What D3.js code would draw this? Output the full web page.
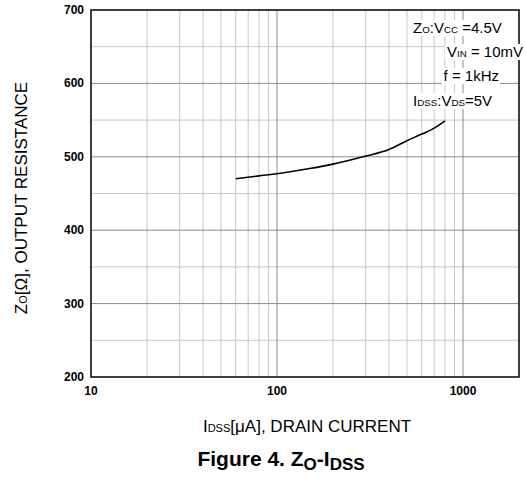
<!DOCTYPE html>
<html>
<head>
<meta charset="utf-8">
<script src="https://cdn.jsdelivr.net/npm/d3@7"></script>
<style>
body{margin:0;background:#fff;}
text{font-family:"Liberation Sans",Arial,sans-serif;}
</style>
</head>
<body>
<svg id="chart" width="526" height="481"></svg>
<script>
// curve
var idss = [60, 80, 100, 150, 200, 300, 400, 500, 600, 700, 800];
var zo   = [470, 474, 477, 484, 490, 501, 510, 522, 531, 539, 549];
var yTicks = [200, 300, 400, 500, 600, 700];
var xTicks = [10, 100, 1000];

var svg = d3.select('#chart');
var pLeft = 91, pRight = 519, pTop = 10, pBottom = 377;

var x = d3.scaleLog().domain([10, 2000]).range([pLeft, pRight]);
var y = d3.scaleLinear().domain([200, 700]).range([pBottom, pTop]);

/** grid: minor first, then major */
var minorX = [], majorX = [];
[10, 100, 1000].forEach(function(d){
	for(var k = 1; k < 10; k++){
		var v = d*k;
		if(v <= 10 || v >= 2000) continue;
		if(k === 1) majorX.push(v); else minorX.push(v);
	}
});
var minorY = d3.range(250, 700, 100), majorY = d3.range(300, 700, 100);

var grid = svg.append('g');
grid.selectAll('.mx').data(minorX).enter().append('line')
	.attr('x1', x).attr('x2', x).attr('y1', pTop).attr('y2', pBottom)
	.attr('stroke', '#c8c8c8').attr('stroke-width', 1);
grid.selectAll('.my').data(minorY).enter().append('line')
	.attr('x1', pLeft).attr('x2', pRight).attr('y1', y).attr('y2', y)
	.attr('stroke', '#c8c8c8').attr('stroke-width', 1);
grid.selectAll('.Mx').data(majorX).enter().append('line')
	.attr('x1', x).attr('x2', x).attr('y1', pTop).attr('y2', pBottom)
	.attr('stroke', '#8c8c8c').attr('stroke-width', 1);
grid.selectAll('.My').data(majorY).enter().append('line')
	.attr('x1', pLeft).attr('x2', pRight).attr('y1', y).attr('y2', y)
	.attr('stroke', '#8c8c8c').attr('stroke-width', 1);

// curve
var line = d3.line().x(function(d, i){return x(idss[i]);}).y(function(d){return y(d);}).curve(d3.curveMonotoneX);
svg.append('path').datum(zo).attr('d', line)
	.attr('fill', 'none').attr('stroke', '#000').attr('stroke-width', 1.6);

// frame
svg.append('rect').attr('x', pLeft).attr('y', pTop).attr('width', pRight-pLeft).attr('height', pBottom-pTop)
	.attr('fill', 'none').attr('stroke', '#000').attr('stroke-width', 1.5);

// tick labels
svg.selectAll('.yl').data(yTicks).enter().append('text')
	.attr('x', pLeft-7).attr('y', function(d){return y(d)+4;})
	.attr('text-anchor', 'end').attr('font-size', 12).attr('font-weight', 'bold').text(function(d){return d;});
svg.selectAll('.xl').data(xTicks).enter().append('text')
	.attr('x', x).attr('y', pBottom+18)
	.attr('text-anchor', 'middle').attr('font-size', 12).attr('font-weight', 'bold').text(function(d){return d;});

/** text with subscripts: parts = [[text, isSub], ...] */
function rich(sel, parts, size){
	parts.forEach(function(p){
		sel.append('tspan').attr('font-size', p[1] ? size*0.65 : size).text(p[0]);
	});
	return sel;
}

// legend lines, each on a white box
var legend = [
	{parts:[['Z',0],['O',1],[':V',0],['CC',1],[' =4.5V',0]], x:413, y:33, anchor:'start'},
	{parts:[['V',0],['IN',1],[' = 10mV',0]], x:523, y:57, anchor:'end'},
	{parts:[['f = 1kHz',0]], x:499, y:81, anchor:'end'},
	{parts:[['I',0],['DSS',1],[':V',0],['DS',1],['=5V',0]], x:413, y:106, anchor:'start'}
];
var lg = svg.append('g');
legend.forEach(function(l){
	var t = rich(lg.append('text').attr('x', l.x).attr('y', l.y).attr('text-anchor', l.anchor), l.parts, 15);
	var b = t.node().getBBox();
	lg.insert('rect', 'text').attr('x', b.x-2).attr('y', b.y+1).attr('width', b.width+3).attr('height', b.height-1)
		.attr('fill', '#fff');
});

// axis titles
rich(svg.append('text').attr('transform', 'translate(27,198) rotate(-90)').attr('text-anchor', 'middle'),
	[['Z',0],['O',1],['[\u03A9], OUTPUT RESISTANCE',0]], 17);
rich(svg.append('text').attr('x', 307).attr('y', 432).attr('text-anchor', 'middle'),
	[['I',0],['DSS',1],['[\u03BCA], DRAIN CURRENT',0]], 17);

var title = svg.append('text').attr('x', 281).attr('y', 466).attr('text-anchor', 'middle')
	.attr('font-weight', 'bold');
title.append('tspan').attr('font-size', 21).text('Figure 4. Z');
title.append('tspan').attr('font-size', 17).attr('dy', 4).text('O');
title.append('tspan').attr('font-size', 21).attr('dy', -4).text('-I');
title.append('tspan').attr('font-size', 17).attr('dy', 4).text('DSS');
</script>
</body>
</html>
